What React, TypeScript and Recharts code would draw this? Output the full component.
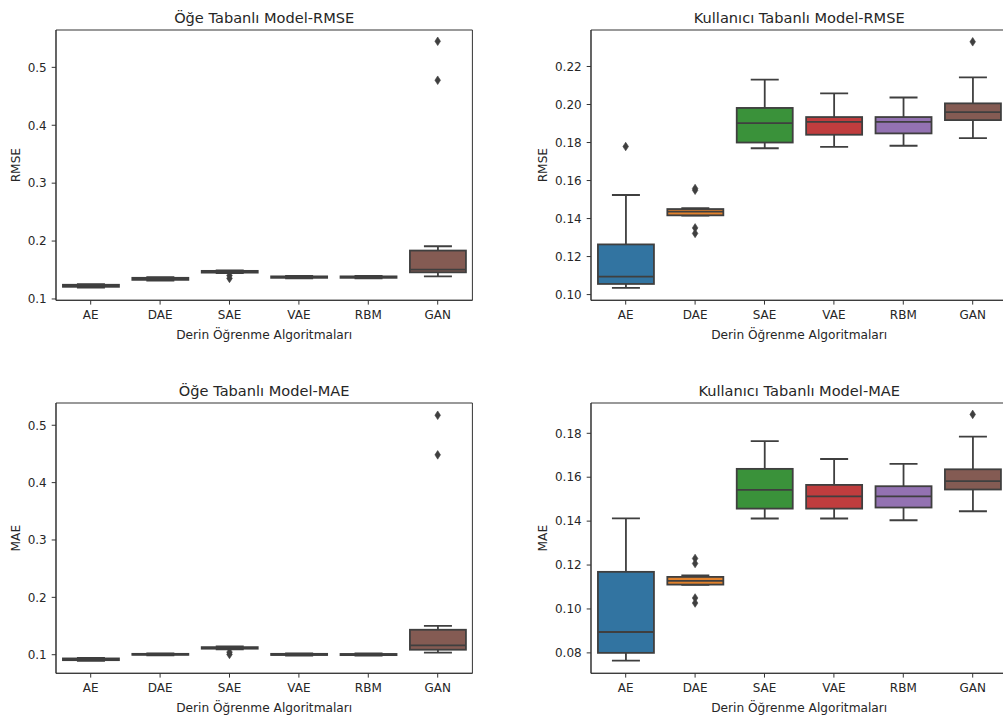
import React from 'react';
import { ComposedChart, Bar, Scatter, XAxis, YAxis, ReferenceArea } from 'recharts';

const categories = ['AE', 'DAE', 'SAE', 'VAE', 'RBM', 'GAN'];
const boxColors = ['#3274a1', '#e1812c', '#3a923a', '#c03d3e', '#9372b2', '#845b53'];
const xAxisTitle = 'Derin Öğrenme Algoritmaları';

// Each row: [lower whisker, Q1, median, Q3, upper whisker], one row per category
const itemRmseStats = [
  [0.1195, 0.1210, 0.1225, 0.1245, 0.1255],
  [0.1315, 0.1330, 0.1345, 0.1365, 0.1375],
  [0.1445, 0.1455, 0.1470, 0.1485, 0.1495],
  [0.1355, 0.1365, 0.1378, 0.1390, 0.1400],
  [0.1355, 0.1365, 0.1378, 0.1390, 0.1400],
  [0.1390, 0.1460, 0.1507, 0.1836, 0.1910],
];
const itemRmseOutliers = [
  { name: 'SAE', v: 0.1405 },
  { name: 'SAE', v: 0.1355 },
  { name: 'GAN', v: 0.545 },
  { name: 'GAN', v: 0.4777 },
];

const userRmseStats = [
  [0.1035, 0.1056, 0.1095, 0.1264, 0.1524],
  [0.1415, 0.1417, 0.1436, 0.1450, 0.1455],
  [0.1770, 0.1800, 0.1902, 0.1982, 0.2131],
  [0.1777, 0.1841, 0.1909, 0.1934, 0.2059],
  [0.1783, 0.1848, 0.1909, 0.1934, 0.2037],
  [0.1823, 0.1918, 0.1960, 0.2006, 0.2143],
];
const userRmseOutliers = [
  { name: 'AE', v: 0.1779 },
  { name: 'DAE', v: 0.1549 },
  { name: 'DAE', v: 0.1558 },
  { name: 'DAE', v: 0.1351 },
  { name: 'DAE', v: 0.1322 },
  { name: 'GAN', v: 0.2330 },
];

const itemMaeStats = [
  [0.0895, 0.0905, 0.0918, 0.0935, 0.0945],
  [0.0990, 0.0998, 0.1005, 0.1015, 0.1022],
  [0.1095, 0.1105, 0.1118, 0.1132, 0.1145],
  [0.0985, 0.0995, 0.1003, 0.1015, 0.1025],
  [0.0985, 0.0993, 0.1002, 0.1013, 0.1022],
  [0.1035, 0.1087, 0.1162, 0.1435, 0.1504],
];
const itemMaeOutliers = [
  { name: 'SAE', v: 0.1045 },
  { name: 'SAE', v: 0.1005 },
  { name: 'GAN', v: 0.5174 },
  { name: 'GAN', v: 0.4484 },
];

const userMaeStats = [
  [0.0765, 0.0800, 0.0895, 0.1169, 0.1413],
  [0.1110, 0.1111, 0.1128, 0.1146, 0.1153],
  [0.1412, 0.1457, 0.1542, 0.1638, 0.1764],
  [0.1412, 0.1457, 0.1513, 0.1565, 0.1683],
  [0.1404, 0.1462, 0.1513, 0.1559, 0.1661],
  [0.1445, 0.1544, 0.1582, 0.1636, 0.1785],
];
const userMaeOutliers = [
  { name: 'DAE', v: 0.1230 },
  { name: 'DAE', v: 0.1207 },
  { name: 'DAE', v: 0.1050 },
  { name: 'DAE', v: 0.1027 },
  { name: 'GAN', v: 0.1886 },
];

const coarseTicks = [0.1, 0.2, 0.3, 0.4, 0.5];
const userRmseTicks = [0.1, 0.12, 0.14, 0.16, 0.18, 0.2, 0.22];
const userMaeTicks = [0.08, 0.1, 0.12, 0.14, 0.16, 0.18];

const LINE = '#3f3f3f';
const TEXT = '#262626';
const FONT = 'DejaVu Sans';

function BoxShape(props: any) {
  const { x, y, width, height, payload } = props;
  const { lo, q1, med, q3, hi, color } = payload;
  const top = Math.min(y, y + height);
  const h = Math.abs(height);
  const py = (v: number) => top + (h * (hi - v)) / (hi - lo);
  const cx = x + width / 2;
  const cap = width / 4;
  const sw = 1.8;
  return (
    <g>
      <line x1={cx} x2={cx} y1={py(hi)} y2={py(q3)} stroke={LINE} strokeWidth={sw} />
      <line x1={cx} x2={cx} y1={py(q1)} y2={py(lo)} stroke={LINE} strokeWidth={sw} />
      <line x1={cx - cap} x2={cx + cap} y1={py(hi)} y2={py(hi)} stroke={LINE} strokeWidth={sw} />
      <line x1={cx - cap} x2={cx + cap} y1={py(lo)} y2={py(lo)} stroke={LINE} strokeWidth={sw} />
      <rect x={x} y={py(q3)} width={width} height={Math.max(py(q1) - py(q3), 0.01)} fill={color} stroke={LINE} strokeWidth={sw} />
      <line x1={x} x2={x + width} y1={py(med)} y2={py(med)} stroke={LINE} strokeWidth={sw} />
    </g>
  );
}

function Diamond(props: any) {
  const { cx, cy } = props;
  if (cx == null || cy == null) return null;
  const pts = `${cx},${cy - 4.3} ${cx + 2.8},${cy} ${cx},${cy + 4.3} ${cx - 2.8},${cy}`;
  return <polygon points={pts} fill={LINE} stroke={LINE} strokeWidth={0.6} />;
}

type PanelProps = {
  title: string;
  yTitle: string;
  stats: number[][];
  outliers: { name: string; v: number }[];
  domain: [number, number];
  ticks: number[];
  decimals: number;
  left: number;
  top: number;
  yTitleOffset: number;
};

function BoxPanel(p: PanelProps) {
  const rows = categories.map((name, i) => {
    const [lo, q1, med, q3, hi] = p.stats[i];
    return { name, range: [lo, hi], lo, q1, med, q3, hi, color: boxColors[i] };
  });
  const W = 55 + 416.4 + 10;
  const H = 30 + 270.3 + 45;
  return (
    <div style={{ position: 'absolute', left: p.left, top: p.top, width: W, height: H }}>
      <ComposedChart width={W} height={H} data={rows} margin={{ top: 30, right: 10, bottom: 0, left: 0 }}>
        <XAxis
          dataKey="name"
          type="category"
          allowDuplicatedCategory={false}
          interval={0}
          height={45}
          tickSize={4.3}
          tickMargin={5.7}
          axisLine={{ stroke: '#333', strokeWidth: 1 }}
          tickLine={{ stroke: '#333', strokeWidth: 1 }}
          tick={{ fill: TEXT, fontSize: 12, fontFamily: FONT }}
          label={{ value: xAxisTitle, position: 'insideBottom', offset: 6.2, fill: TEXT, fontSize: 12.2, fontFamily: FONT }}
        />
        <YAxis
          type="number"
          domain={p.domain}
          ticks={p.ticks}
          allowDataOverflow
          interval={0}
          width={55}
          tickSize={4.3}
          tickMargin={5}
          tickFormatter={(v: number) => v.toFixed(p.decimals)}
          axisLine={{ stroke: '#333', strokeWidth: 1 }}
          tickLine={{ stroke: '#333', strokeWidth: 1 }}
          tick={{ fill: TEXT, fontSize: 12, fontFamily: FONT }}
          label={{ value: p.yTitle, angle: -90, position: 'insideLeft', offset: p.yTitleOffset, fill: TEXT, fontSize: 12.2, fontFamily: FONT, style: { textAnchor: 'middle' } }}
        />
        <ReferenceArea
          y1={p.domain[0]}
          y2={p.domain[1]}
          ifOverflow="visible"
          fill="none"
          fillOpacity={0}
          stroke="#333"
          strokeWidth={1}
          label={{ value: p.title, position: 'top', offset: 7.4, fill: TEXT, fontSize: 14.6, fontFamily: FONT }}
        />
        <Bar dataKey="range" shape={BoxShape} isAnimationActive={false} />
        <Scatter data={p.outliers} dataKey="v" shape={Diamond} isAnimationActive={false} />
      </ComposedChart>
    </div>
  );
}

export default function App() {
  return (
    <div style={{ position: 'fixed', left: 0, top: 0, width: 1003, height: 719, overflow: 'hidden', background: '#fff' }}>
      <BoxPanel title="Öğe Tabanlı Model-RMSE" yTitle="RMSE" stats={itemRmseStats} outliers={itemRmseOutliers}
        domain={[0.0977, 0.5645]} ticks={coarseTicks} decimals={1} left={0.7} top={0} yTitleOffset={14.3} />
      <BoxPanel title="Kullanıcı Tabanlı Model-RMSE" yTitle="RMSE" stats={userRmseStats} outliers={userRmseOutliers}
        domain={[0.097, 0.2392]} ticks={userRmseTicks} decimals={2} left={536.3} top={0} yTitleOffset={7} />
      <BoxPanel title="Öğe Tabanlı Model-MAE" yTitle="MAE" stats={itemMaeStats} outliers={itemMaeOutliers}
        domain={[0.0676, 0.5388]} ticks={coarseTicks} decimals={1} left={0.7} top={373} yTitleOffset={14.3} />
      <BoxPanel title="Kullanıcı Tabanlı Model-MAE" yTitle="MAE" stats={userMaeStats} outliers={userMaeOutliers}
        domain={[0.0707, 0.1938]} ticks={userMaeTicks} decimals={2} left={536.3} top={373} yTitleOffset={7} />
    </div>
  );
}
